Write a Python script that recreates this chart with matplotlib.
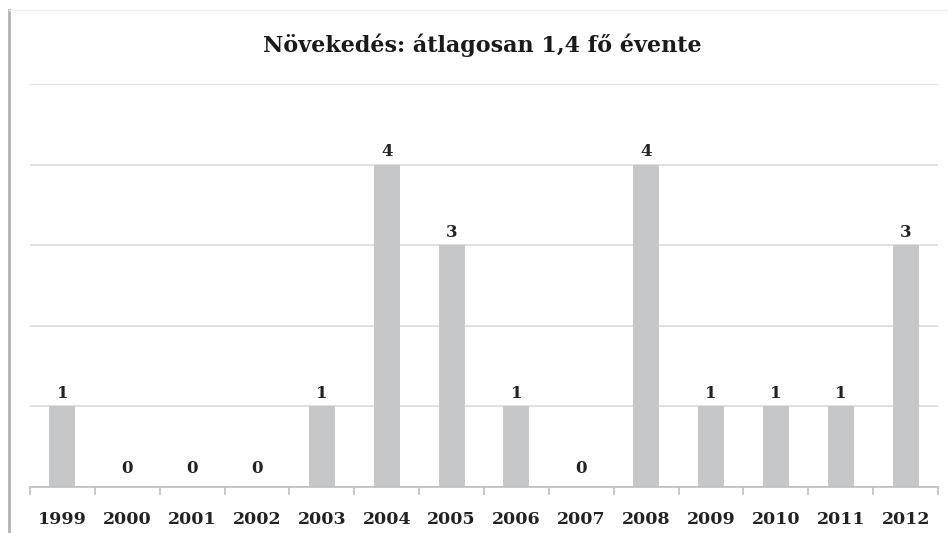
import matplotlib
matplotlib.use("Agg")
import matplotlib.pyplot as plt
from matplotlib.lines import Line2D

years = ["1999", "2000", "2001", "2002", "2003", "2004", "2005",
         "2006", "2007", "2008", "2009", "2010", "2011", "2012"]
values = [1, 0, 0, 0, 1, 4, 3, 1, 0, 4, 1, 1, 1, 3]
title = "Növekedés: átlagosan 1,4 fő évente"

serif = ["DejaVu Serif"]

fig = plt.figure(figsize=(9.48, 5.33), dpi=100)
ax = fig.add_axes([30/948, 46/533, 908/948, (487-84)/533])

x = list(range(len(years)))
ax.bar(x, values, width=0.4, color="#c6c7c9", zorder=2)
for xi, v in zip(x, values):
    off = 3 if v > 0 else 7
    ax.annotate(str(v), (xi, v), xytext=(0, off), textcoords="offset points",
                ha="center", va="bottom", fontsize=12, fontweight="bold",
                family=serif, color="#222222")

ax.set_xlim(-0.5, len(years) - 0.5)
ax.set_ylim(0, 5)
ax.set_yticks([0, 1, 2, 3, 4, 5])
ax.yaxis.grid(True, color="#dcdcdc", linewidth=1.2, zorder=0)
ax.set_axisbelow(True)
ax.tick_params(axis="y", left=False, labelleft=False)
ax.set_xticks(x)
ax.set_xticklabels(years, fontsize=12.5, fontweight="bold", family=serif, color="#222222")
ax.set_xticks([i - 0.5 for i in range(len(years) + 1)], minor=True)
ax.tick_params(axis="x", which="major", length=0, pad=17)
ax.tick_params(axis="x", which="minor", length=6, color="#bfbfbf", width=1.2)
for s in ["top", "right", "left"]:
    ax.spines[s].set_visible(False)
ax.spines["bottom"].set_color("#bfbfbf")
ax.spines["bottom"].set_linewidth(1.2)

fig.text(482/948, 1 - 45/533, title, ha="center", va="center", fontsize=16,
         fontweight="bold", family=serif, color="#1a1a1a")

fig.add_artist(Line2D([9/948, 9/948], [0, 1 - 10/533], transform=fig.transFigure,
                      color="#b0b0b0", linewidth=2))
fig.add_artist(Line2D([9/948, 1], [1 - 10/533, 1 - 10/533], transform=fig.transFigure,
                      color="#eeeeee", linewidth=1))

fig.savefig("out.png", dpi=100)
